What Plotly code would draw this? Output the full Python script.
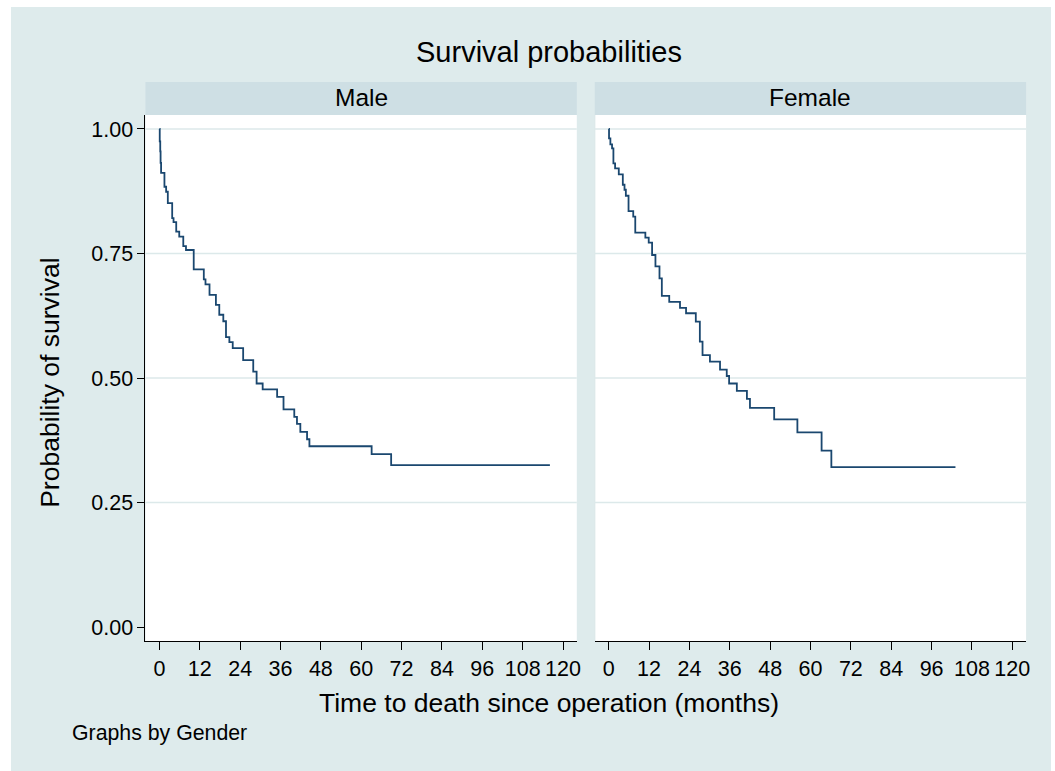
import plotly.graph_objects as go

# ---------------- data ----------------
male_time = [0, 0.1, 0.25, 0.35, 0.5, 1.5, 2.0, 2.5, 3.8, 4.2, 5.0, 5.9, 7.1, 7.9, 10.2,
             13.2, 13.7, 14.9, 16.8, 17.8, 19.0, 19.8, 20.8, 21.8, 24.9, 27.9, 28.9, 30.7,
             35.0, 36.9, 40.1, 40.9, 41.9, 43.9, 44.6, 63.1, 68.9, 116.1]
male_surv = [1.0, 0.975, 0.955, 0.932, 0.912, 0.884, 0.874, 0.851, 0.821, 0.813, 0.794, 0.784,
             0.765, 0.757, 0.718, 0.698, 0.688, 0.667, 0.647, 0.627, 0.614, 0.582, 0.572, 0.560,
             0.536, 0.513, 0.489, 0.477, 0.462, 0.437, 0.422, 0.408, 0.392, 0.377, 0.363, 0.347,
             0.325, 0.325]

female_time = [0, 0.1, 0.5, 1.0, 1.4, 1.9, 3.0, 4.2, 4.7, 5.1, 5.9, 7.3, 7.9, 10.9, 11.9, 12.9,
               13.9, 15.1, 15.8, 18.0, 21.2, 23.0, 25.9, 27.1, 27.9, 30.1, 33.1, 35.1, 35.8,
               38.1, 41.1, 42.0, 49.2, 56.1, 63.3, 66.2, 103.1]
female_surv = [1.0, 0.981, 0.969, 0.961, 0.931, 0.921, 0.909, 0.888, 0.878, 0.866, 0.835, 0.824,
               0.792, 0.782, 0.772, 0.747, 0.724, 0.700, 0.665, 0.653, 0.641, 0.630, 0.613,
               0.573, 0.546, 0.533, 0.517, 0.504, 0.489, 0.474, 0.458, 0.440, 0.417, 0.391,
               0.354, 0.321, 0.321]

panels = ["Male", "Female"]
x_ticks = list(range(0, 121, 12))
y_ticks = [0, 0.25, 0.5, 0.75, 1.0]
y_ticktext = ["0.00", "0.25", "0.50", "0.75", "1.00"]
title = "Survival probabilities"
x_title = "Time to death since operation (months)"
y_title = "Probability of survival"
note = "Graphs by Gender"

# ---------------- styling ----------------
W, H = 1055, 771
FONT = "Liberation Sans, Arial, Helvetica, sans-serif"
BG = "#DEEBEC"
STRIP = "#CEDFE4"
GRID = "#DCE9EA"
LINE = "#1A476F"


def px(x):
    return x / W


def py(y):
    return 1 - y / H


male_dom = [px(146), px(579)]
female_dom = [px(597), px(1030)]
y_dom = [py(641), py(115)]
xr = [-4.15, 124.1]
yr = [-0.0281, 1.0281]

fig = go.Figure()
fig.add_trace(go.Scatter(x=male_time, y=male_surv, mode="lines", line=dict(shape="hv", color=LINE, width=1.8),
                         xaxis="x", yaxis="y", showlegend=False, hoverinfo="skip"))
fig.add_trace(go.Scatter(x=female_time, y=female_surv, mode="lines", line=dict(shape="hv", color=LINE, width=1.8),
                         xaxis="x2", yaxis="y2", showlegend=False, hoverinfo="skip"))

tickfont = dict(family=FONT, size=21.5, color="black")
xcommon = dict(range=xr, tickvals=x_ticks, ticks="outside", ticklen=8, tickwidth=1, tickcolor="black",
               showline=True, linecolor="black", linewidth=1, showgrid=False, zeroline=False,
               tickfont=tickfont, fixedrange=True)

shapes = [
    dict(type="rect", xref="paper", yref="paper", x0=px(11), x1=1, y0=0, y1=py(7),
         fillcolor=BG, line=dict(width=0), layer="below"),
]
for dom in (male_dom, female_dom):
    shapes.append(dict(type="rect", xref="paper", yref="paper", x0=dom[0], x1=dom[1], y0=y_dom[0], y1=y_dom[1],
                       fillcolor="white", line=dict(width=0), layer="below"))
    shapes.append(dict(type="rect", xref="paper", yref="paper", x0=dom[0], x1=dom[1], y0=py(115), y1=py(82),
                       fillcolor=STRIP, line=dict(width=0), layer="below"))
# faint left edge of the female plot region
shapes.append(dict(type="line", xref="paper", yref="paper", x0=female_dom[0], x1=female_dom[0],
                   y0=y_dom[0], y1=y_dom[1], line=dict(color=GRID, width=1.3), layer="below"))
for xref, yref in [("x domain", "y"), ("x2 domain", "y2")]:
    for v in y_ticks[1:]:
        shapes.append(dict(type="line", xref=xref, yref=yref, x0=0, x1=1, y0=v, y1=v,
                           line=dict(color=GRID, width=1.3), layer="below"))

annotations = [
    dict(text=title, x=px(551.5), y=py(52), xref="paper", yref="paper", showarrow=False,
         xanchor="center", yanchor="middle", font=dict(family=FONT, size=29, color="black")),
    dict(text=panels[0], x=(male_dom[0] + male_dom[1]) / 2, y=py(97), xref="paper", yref="paper",
         showarrow=False, xanchor="center", yanchor="middle", font=dict(family=FONT, size=24.5, color="black")),
    dict(text=panels[1], x=(female_dom[0] + female_dom[1]) / 2, y=py(97), xref="paper", yref="paper",
         showarrow=False, xanchor="center", yanchor="middle", font=dict(family=FONT, size=24.5, color="black")),
    dict(text=x_title, x=px(551.5), y=py(703), xref="paper", yref="paper", showarrow=False,
         xanchor="center", yanchor="middle", font=dict(family=FONT, size=26.5, color="black")),
    dict(text=y_title, x=px(50), y=py(383), xref="paper", yref="paper", showarrow=False, textangle=-90,
         xanchor="center", yanchor="middle", font=dict(family=FONT, size=26.5, color="black")),
    dict(text=note, x=px(70), y=py(733), xref="paper", yref="paper", showarrow=False,
         xanchor="left", yanchor="middle", font=dict(family=FONT, size=21.3, color="black")),
]

fig.update_layout(
    width=W, height=H,
    margin=dict(l=0, r=0, t=0, b=0),
    paper_bgcolor="white",
    plot_bgcolor="white",
    showlegend=False,
    xaxis=dict(domain=male_dom, anchor="y", **xcommon),
    xaxis2=dict(domain=female_dom, anchor="y2", **xcommon),
    yaxis=dict(domain=y_dom, anchor="x", range=yr, tickvals=y_ticks, ticktext=y_ticktext,
               ticks="outside", ticklen=7, tickwidth=1, tickcolor="black", showline=True,
               linecolor="black", linewidth=1, showgrid=False, zeroline=False, tickfont=tickfont,
               fixedrange=True),
    yaxis2=dict(domain=y_dom, anchor="x2", range=yr, showticklabels=False, ticks="", showline=False,
                showgrid=False, zeroline=False, fixedrange=True),
    shapes=shapes,
    annotations=annotations,
)

fig.write_html("out.html")
